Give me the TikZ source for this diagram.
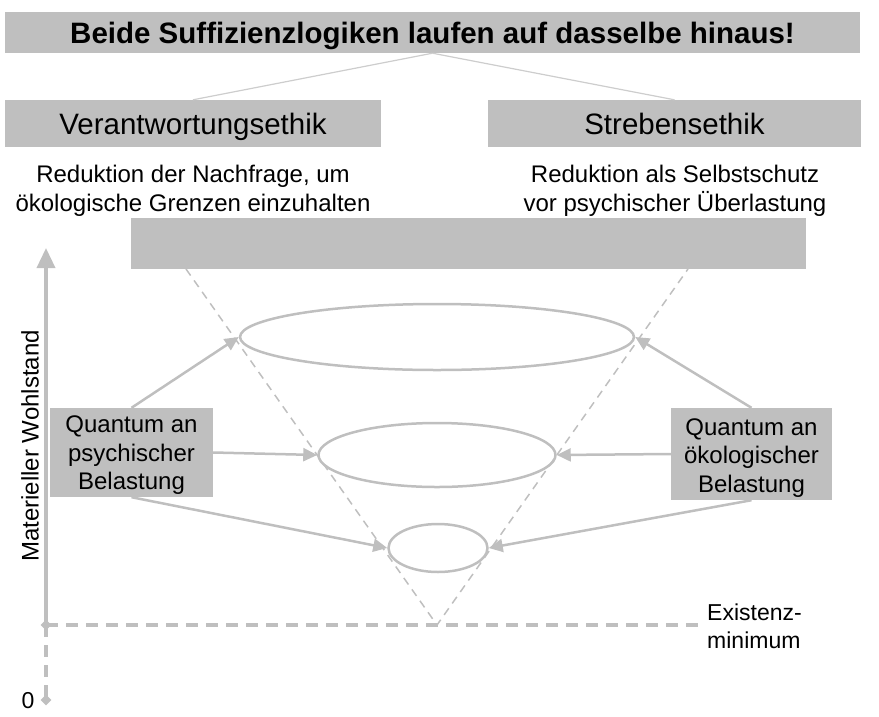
\documentclass[tikz,border=0pt]{standalone}
\usepackage{fontspec}
\setmainfont{Liberation Sans}
\usetikzlibrary{arrows.meta,shapes.geometric}
\definecolor{bx}{RGB}{191,191,191}
\definecolor{ln}{RGB}{205,205,205}
\begin{document}
\begin{tikzpicture}[x=1pt,y=-1pt,
  box/.style={fill=bx,draw=none,inner sep=0pt},
  hdr/.style={box,font=\fontsize{29.5}{34}\selectfont,text height=21.2pt,text depth=0pt},
  txt/.style={align=center,inner sep=0pt,font=\fontsize{24}{28.5}\selectfont},
  qtxt/.style={align=center,inner sep=0pt,font=\fontsize{24}{28.5}\selectfont},
  ell/.style={ellipse,draw=bx,line width=2.5pt,inner sep=0pt},
  arr/.style={draw=bx,line width=2.5pt,-{Triangle[length=14pt,width=13pt]}},
  thinln/.style={draw=ln,line width=1.2pt},
  cone/.style={draw=bx,line width=1.5pt,dash pattern=on 8pt off 6pt},
  thickdash/.style={draw=bx,line width=4pt,dash pattern=on 12pt off 8pt},
  dia/.style={diamond,fill=bx,inner sep=0pt,minimum size=11pt}]
\useasboundingbox (0,0) rectangle (879,716);
% boxes
\node[box,minimum width=855pt,minimum height=41pt,text height=21.2pt,text depth=0pt,font=\bfseries\fontsize{29.5}{34}\selectfont] (title) at (432.5,32.5) {Beide Suffizienzlogiken laufen auf dasselbe hinaus!};
\node[hdr,minimum width=376pt,minimum height=47pt] (ver) at (193,123.5) {Verantwortungsethik};
\node[hdr,minimum width=373pt,minimum height=47pt] (str) at (674.5,123.5) {Strebensethik};
\draw[thinln] (title.south) -- (ver.north);
\draw[thinln] (title.south) -- (str.north);
\node[txt] (dver) at (193,191) {Reduktion der Nachfrage, um\\ökologische Grenzen einzuhalten};
\node[txt] (dstr) at (675,191) {Reduktion als Selbstschutz\\vor psychischer Überlastung};
\node[box,minimum width=675pt,minimum height=51pt] (bar) at (468.5,243.5) {};
% cone
\coordinate (dl) at (186,269);
\coordinate (dr) at (688,269);
\coordinate (apex) at (437,625);
\draw[cone] (dl) -- (apex) -- (dr);
% ellipses
\node[ell,minimum width=394pt,minimum height=66pt] (e1) at (437,337) {};
\node[ell,minimum width=237pt,minimum height=64pt] (e2) at (437,455) {};
\node[ell,minimum width=99pt,minimum height=48pt] (e3) at (438,548) {};
% axes
\coordinate (origin) at (46,625);
\coordinate (ytop) at (46,248);
\coordinate (zero) at (46,700);
\coordinate (xend) at (700,625);
\draw[thickdash] (origin) -- (xend);
\draw[thickdash] (origin) -- (zero);
\draw[draw=bx,line width=3.5pt,-{Triangle[length=20pt,width=18pt]}] (origin) -- (ytop);
\node[dia] (d1) at (origin) {};
\node[dia] (d2) at (zero) {};
\node[rotate=90,inner sep=0pt,font=\fontsize{24}{28}\selectfont] (ylab) at (30,446) {Materieller Wohlstand};
\node[inner sep=0pt,font=\fontsize{23}{28}\selectfont] (zlab) at (28,701) {0};
\node[anchor=west,align=left,inner sep=0pt,font=\fontsize{23}{28}\selectfont] (exm) at (707,626) {Existenz-\\minimum};
% quantum boxes
\node[box,minimum width=163pt,minimum height=89pt] (qpsy) at (131.5,452.5) {};
\node[qtxt] (qpsyt) at (131.5,455.5) {Quantum an\\psychischer\\Belastung};
\node[box,minimum width=161pt,minimum height=92pt] (qoek) at (751.5,454) {};
\node[qtxt] (qoekt) at (751.5,458) {Quantum an\\ökologischer\\Belastung};
% arrows
\draw[arr] (qpsy.north) -- (e1.west);
\draw[arr] (qpsy.east) -- (e2.west);
\draw[arr] (qpsy.south) -- (e3.west);
\draw[arr] (qoek.north) -- (e1.east);
\draw[arr] (qoek.west) -- (e2.east);
\draw[arr] (qoek.south) -- (e3.east);
\end{tikzpicture}
\end{document}
